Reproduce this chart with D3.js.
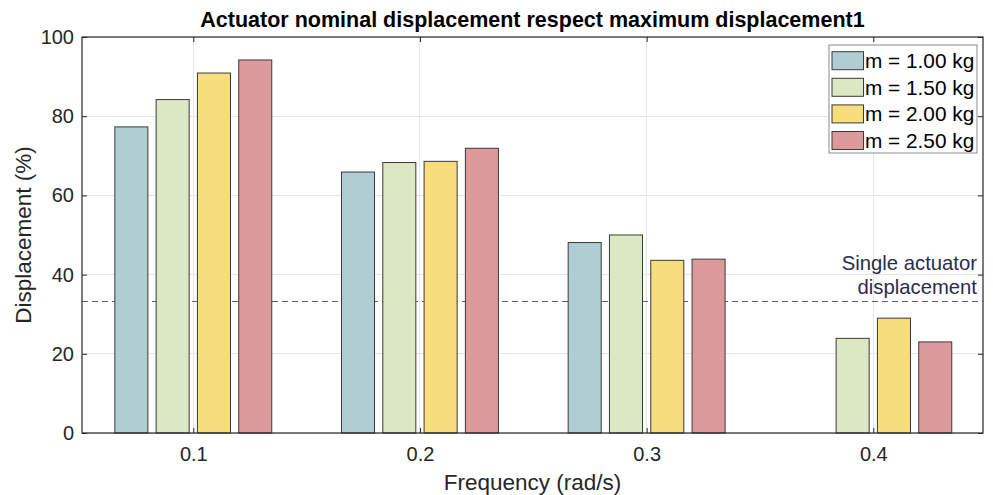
<!DOCTYPE html>
<html>
<head>
<meta charset="utf-8">
<script src="https://cdn.jsdelivr.net/npm/d3@7"></script>
<style>
  html, body { margin: 0; padding: 0; background: #fff; }
  svg { display: block; font-family: "Liberation Sans", Arial, Helvetica, sans-serif; }
</style>
</head>
<body>
<svg id="chart" width="993" height="495"></svg>
<script>
// ---- data ----
const frequencies = [0.1, 0.2, 0.3, 0.4];
const seriesNames = ["m = 1.00 kg", "m = 1.50 kg", "m = 2.00 kg", "m = 2.50 kg"];
const seriesColors = ["#afcdd2", "#dce7c3", "#f7dd7b", "#dd9a9b"];
const mass100 = [77.3, 65.9, 48.1, null];
const mass150 = [84.2, 68.3, 50.0, 23.9];
const mass200 = [90.9, 68.6, 43.6, 29.0];
const mass250 = [94.2, 71.9, 43.9, 23.0];
const seriesValues = [mass100, mass150, mass200, mass250];
const yTicks = [0, 20, 40, 60, 80, 100];
const xTickLabels = ["0.1", "0.2", "0.3", "0.4"];
const singleActuator = 100 / 3;
const titleText = "Actuator nominal displacement respect maximum displacement1";
const xLabelText = "Frequency (rad/s)";
const yLabelText = "Displacement (%)";
const annotationLines = ["Single actuator", "displacement"];

// ---- layout ----
const L = 82, R = 983, T = 37, B = 433;
const svg = d3.select("#chart");

const x = d3.scaleLinear().domain([0.0509, 0.4484]).range([L, R]);
const y = d3.scaleLinear().domain([0, 100]).range([B, T]);
const sub = d3.scaleBand().domain(d3.range(seriesNames.length))
  .range([-82.6, 82.6]).paddingInner(0.2).paddingOuter(0.1);

// grid
const grid = svg.append("g");
grid.selectAll("line.gy").data(yTicks).join("line")
  .attr("x1", L).attr("x2", R).attr("y1", d => y(d)).attr("y2", d => y(d))
  .attr("stroke", "#e6e6e6").attr("stroke-width", 1).attr("shape-rendering", "crispEdges");
grid.selectAll("line.gx").data(frequencies).join("line")
  .attr("x1", d => x(d)).attr("x2", d => x(d)).attr("y1", T).attr("y2", B)
  .attr("stroke", "#e6e6e6").attr("stroke-width", 1).attr("shape-rendering", "crispEdges");

// dashed reference line (behind bars)
svg.append("line")
  .attr("x1", L).attr("x2", R).attr("y1", y(singleActuator)).attr("y2", y(singleActuator))
  .attr("stroke", "#5c5c8a").attr("stroke-width", 1).attr("stroke-dasharray", "6,4")
  .attr("shape-rendering", "crispEdges");

// bars
const bars = svg.append("g");
seriesValues.forEach((vals, si) => {
  bars.selectAll(null).data(vals.map((v, i) => ({ v, f: frequencies[i] })).filter(d => d.v != null))
    .join("rect")
    .attr("x", d => x(d.f) + sub(si))
    .attr("width", sub.bandwidth())
    .attr("y", d => y(d.v))
    .attr("height", d => y(0) - y(d.v))
    .attr("fill", seriesColors[si])
    .attr("stroke", "#3a3a3a").attr("stroke-width", 1);
});

// axes
const yAxisL = d3.axisLeft(y).tickValues(yTicks).tickSize(-5).tickPadding(8).tickFormat(d3.format("d"));
const yAxisR = d3.axisRight(y).tickValues(yTicks).tickSize(-5).tickFormat("");
const xAxisB = d3.axisBottom(x).tickValues(frequencies).tickSize(-5).tickPadding(14).tickFormat((d, i) => xTickLabels[i]);
const xAxisT = d3.axisTop(x).tickValues(frequencies).tickSize(-5).tickFormat("");

function styleAxis(g) {
  g.select(".domain").remove();
  g.selectAll(".tick line").attr("stroke", "#262626");
  g.selectAll(".tick text").attr("fill", "#262626").style("font-size", "20px")
    .style("font-family", "'Liberation Sans', Arial, sans-serif");
}
svg.append("g").attr("transform", `translate(${L},0)`).call(yAxisL).call(styleAxis);
svg.append("g").attr("transform", `translate(${R},0)`).call(yAxisR).call(styleAxis);
svg.append("g").attr("transform", `translate(0,${B})`).call(xAxisB).call(styleAxis);
svg.append("g").attr("transform", `translate(0,${T})`).call(xAxisT).call(styleAxis);

// box
svg.append("rect").attr("x", L).attr("y", T).attr("width", R - L).attr("height", B - T)
  .attr("fill", "none").attr("stroke", "#262626").attr("stroke-width", 1.2);

// annotation
const ann = svg.append("text").attr("text-anchor", "end").attr("fill", "#2b2b4d")
  .style("font-size", "20.3px");
annotationLines.forEach((t, i) => {
  ann.append("tspan").attr("x", 977).attr("y", 270 + i * 23.5).text(t);
});

// title
svg.append("text").attr("x", (L + R) / 2).attr("y", 26.5).attr("text-anchor", "middle")
  .attr("fill", "#000").style("font-size", "21.5px").style("font-weight", "bold").text(titleText);

// axis labels
svg.append("text").attr("x", (L + R) / 2).attr("y", 490).attr("text-anchor", "middle")
  .attr("fill", "#262626").style("font-size", "22.5px").text(xLabelText);
svg.append("text").attr("transform", `translate(31,${(T + B) / 2}) rotate(-90)`)
  .attr("text-anchor", "middle").attr("fill", "#262626").style("font-size", "22.5px").text(yLabelText);

// legend
const lg = svg.append("g");
lg.append("rect").attr("x", 829).attr("y", 45).attr("width", 148).attr("height", 108)
  .attr("fill", "#fff").attr("stroke", "#8c8c8c").attr("stroke-width", 1);
seriesNames.forEach((name, i) => {
  const cy = 60.7 + i * 26.6;
  lg.append("rect").attr("x", 832).attr("y", cy - 9).attr("width", 31.5).attr("height", 18)
    .attr("fill", seriesColors[i]).attr("stroke", "#3a3a3a").attr("stroke-width", 1);
  lg.append("text").attr("x", 865).attr("y", cy + 7.3).attr("fill", "#000")
    .style("font-size", "20.8px").text(name);
});
</script>
</body>
</html>
